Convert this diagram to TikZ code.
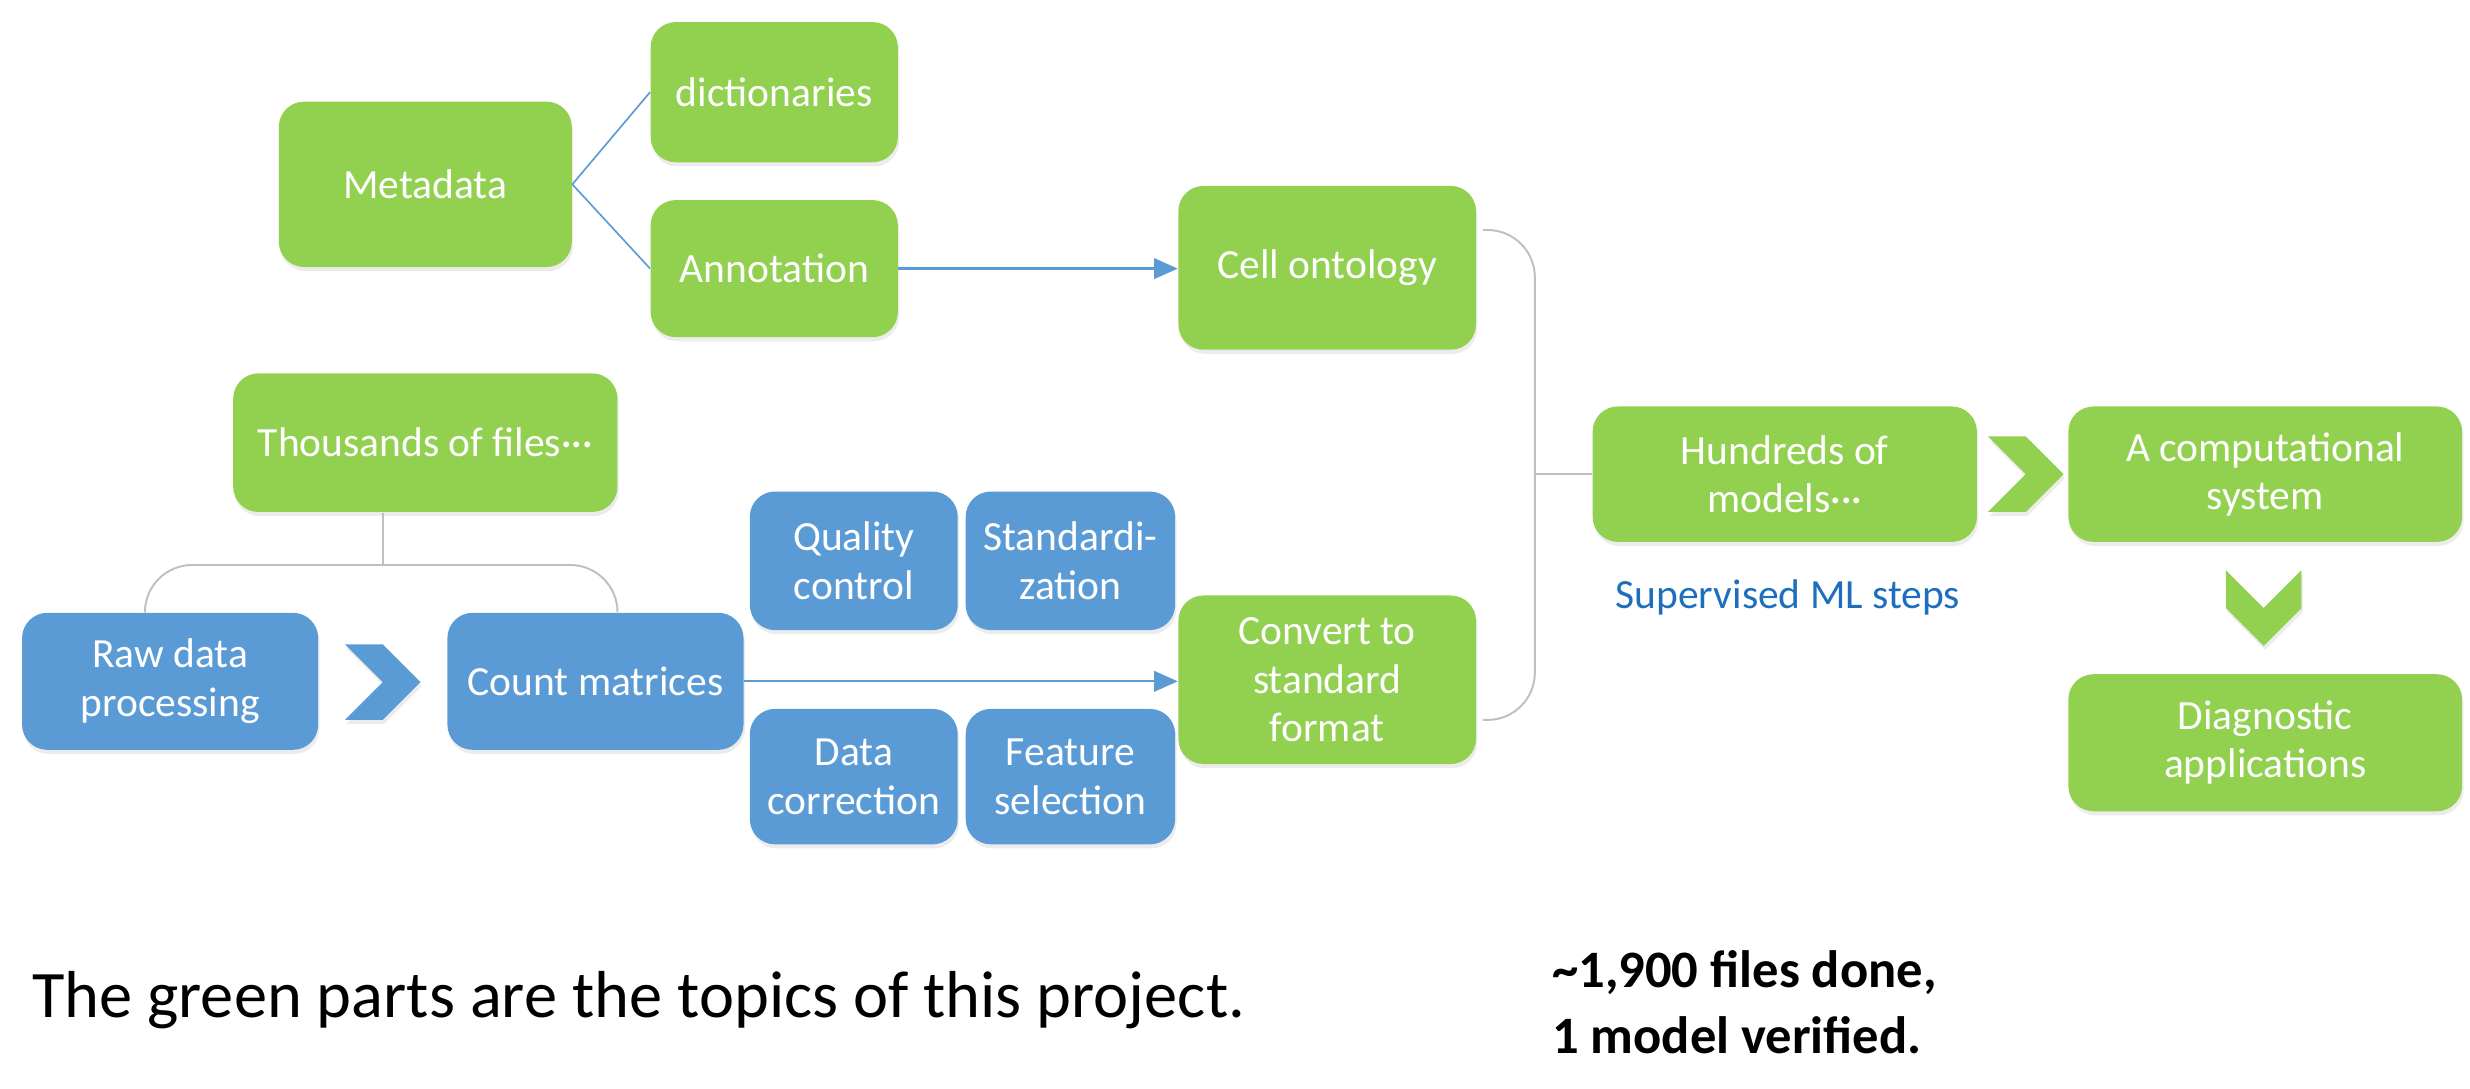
\documentclass[tikz,border=0pt]{standalone}
\usepackage{fontspec}
\setmainfont{Carlito}
\usetikzlibrary{arrows.meta,calc,shadows}
\definecolor{boxgreen}{RGB}{146,208,80}
\definecolor{boxblue}{RGB}{91,155,213}
\definecolor{labelblue}{RGB}{30,110,190}
\definecolor{bracegray}{RGB}{191,191,191}
\newcommand{\boxfont}{\fontsize{15}{17.5}\selectfont}

\begin{document}
\begin{tikzpicture}[
      x=0.02cm, y=-0.02cm,
      gbox/.style={fill=boxgreen, rounded corners=0.32cm,
                   text=white, align=center, font=\boxfont, inner sep=0pt,
                   drop shadow={opacity=0.15, shadow xshift=0.5pt,
                                shadow yshift=-1.5pt}},
      bbox/.style={gbox, fill=boxblue},
      link/.style={draw=boxblue, line width=0.8pt,
                   -{Triangle[length=0.3cm, width=0.26cm]}},
      tie/.style={draw=boxblue, line width=0.6pt},
      brace/.style={draw=bracegray, line width=0.7pt, rounded corners=0.6cm},
      gchev/.style={fill=boxgreen, drop shadow={opacity=0.15,
                    shadow xshift=0.5pt, shadow yshift=-1.5pt}},
      bchev/.style={gchev, fill=boxblue},
    ]
    \useasboundingbox (0,0) rectangle (1568,691);

    %% metadata branch
    \node[gbox, minimum width=3.72cm, minimum height=2.1cm] (meta) at (270,117) {Metadata};
    \node[gbox, minimum width=3.14cm, minimum height=1.78cm] (dict) at (491.5,58.5) {dictionaries};
    \node[gbox, minimum width=3.14cm, minimum height=1.74cm] (annot) at (491.5,170.5) {Annotation};
    \node[gbox, minimum width=3.78cm, minimum height=2.08cm] (cell) at (842.5,170) {Cell ontology};
    \draw[tie] (meta.east) -- (dict.west);
    \draw[tie] (meta.east) -- (annot.west);
    \draw[link] (annot.east) -- (annot.east -| cell.west);

    %% file branch
    \node[gbox, minimum width=4.88cm, minimum height=1.76cm] (thou) at (270,281) {Thousands of files···};
    \node[bbox, minimum width=3.76cm, minimum height=1.74cm] (raw) at (108,432.5) {Raw data\\processing};
    \node[bbox, minimum width=3.76cm, minimum height=1.74cm] (count) at (378,432.5) {Count matrices};
    \node[bbox, minimum width=2.64cm, minimum height=1.76cm] (qc) at (542,356) {Quality\\control};
    \node[bbox, minimum width=2.66cm, minimum height=1.76cm] (std) at (679.5,356) {Standardi-\\zation};
    \node[bbox, minimum width=2.64cm, minimum height=1.72cm] (dc) at (542,493) {Data\\correction};
    \node[bbox, minimum width=2.66cm, minimum height=1.72cm] (fs) at (679.5,493) {Feature\\selection};
    \node[gbox, minimum width=3.78cm, minimum height=2.14cm] (conv) at (842.5,431.5) {Convert to\\standard\\format};
    \fill[bchev] (219,409) -- (243,409) -- (267,433) -- (243,457) -- (219,457) -- (243,433) -- cycle;
    \draw[link] (count.east) -- (count.east -| conv.west);

    \coordinate (fork) at ($(raw.north)!0.5!(count.north)$);
    \draw[brace] (fork |- thou.south) -- ($(fork)+(0,-30)$);
    \draw[brace] ($(raw.north)+(-16,0)$) |- ($(fork)+(0,-30)$) -| ($(count.north)+(14,0)$);

    %% models
    \node[gbox, minimum width=4.88cm, minimum height=1.72cm] (hund) at (1133,301) {Hundreds of\\models···};
    \node[gbox, minimum width=5cm, minimum height=1.72cm] (comp) at (1438,301) {A computational\\system};
    \node[gbox, minimum width=5cm, minimum height=1.74cm] (diag) at (1438,471.5) {Diagnostic\\applications};
    \node[font=\boxfont, text=labelblue] (sml) at (1135,379) {Supervised ML steps};
    \fill[gchev] (1262,277) -- (1286,277) -- (1310,301) -- (1286,325) -- (1262,325) -- (1286,301) -- cycle;
    \fill[gchev] (1413,362) -- (1437,386) -- (1461,362) -- (1461,386) -- (1437,410) -- (1413,386) -- cycle;

    \coordinate (brk) at ($(cell.east)+(37,0)$);
    \draw[brace] ($(cell.east)+(4,-24)$) -| ($(conv.east)+(37,25.5)$) -- ($(conv.east)+(4,25.5)$);
    \draw[brace] (hund.west) -- (hund.west -| brk);

    %% notes
    \node[anchor=base west, inner sep=0pt, font=\fontsize{24}{28}\selectfont] (note) at (20,646)
      {The green parts are the topics of this project.};
    \node[anchor=base west, inner sep=0pt, align=left, font=\fontsize{19}{23.9}\selectfont\bfseries] (done) at (985,669)
      {\textasciitilde1,900 files done,\\1 model verified.};
\end{tikzpicture}
\end{document}
